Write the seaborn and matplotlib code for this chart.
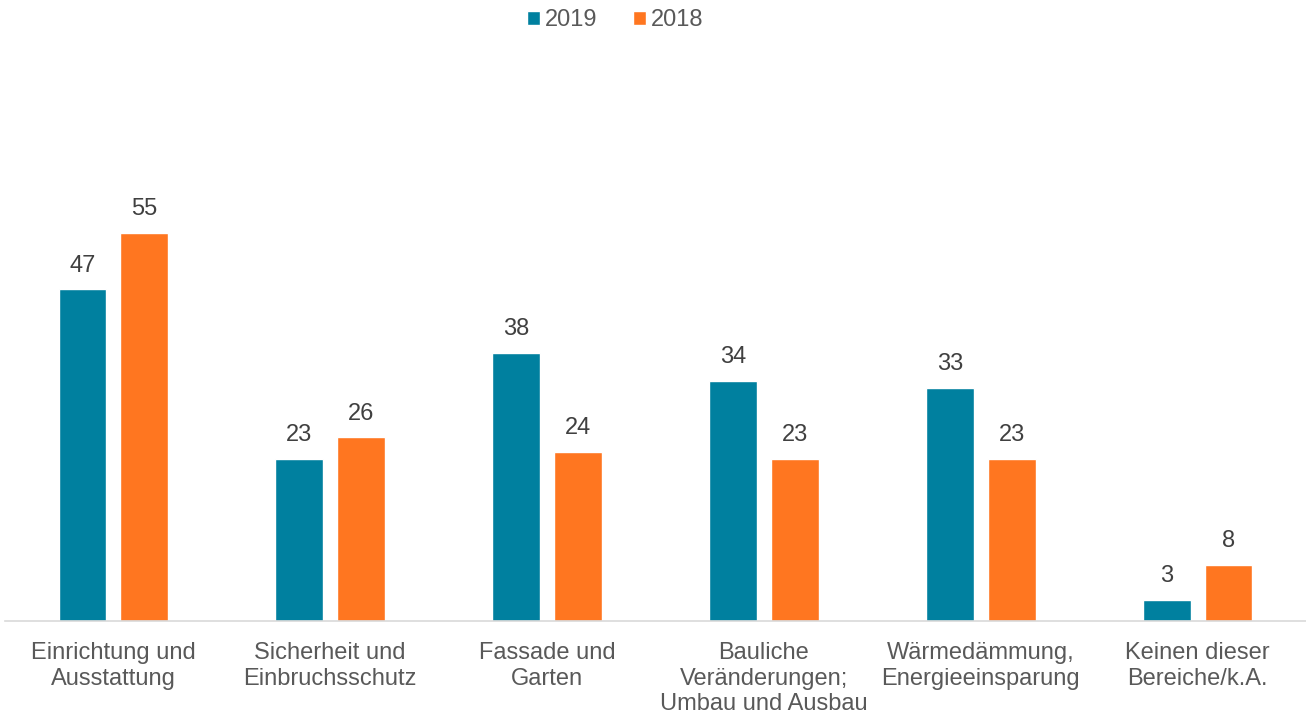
import matplotlib
matplotlib.use("Agg")
import matplotlib.pyplot as plt
import seaborn as sns
import pandas as pd

categories = ["Einrichtung und\nAusstattung", "Sicherheit und\nEinbruchsschutz", "Fassade und\nGarten",
              "Bauliche\nVeränderungen;\nUmbau und Ausbau", "Wärmedämmung,\nEnergieeinsparung",
              "Keinen dieser\nBereiche/k.A."]
series_names = ["2019", "2018"]
values_2019 = [47, 23, 38, 34, 33, 3]
values_2018 = [55, 26, 24, 23, 23, 8]

df = pd.DataFrame({
    "cat": categories * 2,
    "year": [series_names[0]] * len(categories) + [series_names[1]] * len(categories),
    "val": values_2019 + values_2018,
})

sns.set_theme(style="white")
plt.rcParams["font.family"] = ["Liberation Sans", "DejaVu Sans"]
TXT = "#595959"
FS = 17

fig = plt.figure(figsize=(13.06, 7.14), dpi=100)
ax = fig.add_axes([5 / 1306, (714 - 621) / 714, 1301 / 1306, (621 - 56) / 714])

sns.barplot(data=df, x="cat", y="val", hue="year", hue_order=series_names,
            palette=["#00809F", "#FF7620"], width=0.571, gap=0.226,
            saturation=1, ax=ax, legend=True)

for c in ax.containers:
    ax.bar_label(c, fmt="%g", padding=9, fontsize=FS, color="#404040")

ax.set_ylim(0, 80)
ax.set_xlim(-0.5, len(categories) - 0.5)
ax.set_xlabel("")
ax.set_ylabel("")
ax.set_yticks([])
ax.tick_params(axis="x", length=0, labelsize=FS, labelcolor=TXT, pad=15)
for lab in ax.get_xticklabels():
    lab.set_linespacing(1.22)
for s in ["top", "right", "left"]:
    ax.spines[s].set_visible(False)
ax.spines["bottom"].set_color("#D9D9D9")
ax.spines["bottom"].set_linewidth(1.2)

ax.legend_.remove()
handles, labels = ax.get_legend_handles_labels()
fig.legend(handles, labels, loc="center", bbox_to_anchor=(615 / 1306, 1 - 20 / 714), ncol=2,
           frameon=False, fontsize=FS, labelcolor=TXT, handlelength=0.55, handleheight=0.55,
           handletextpad=0.2, columnspacing=1.5)

fig.savefig("out.png", dpi=100)
